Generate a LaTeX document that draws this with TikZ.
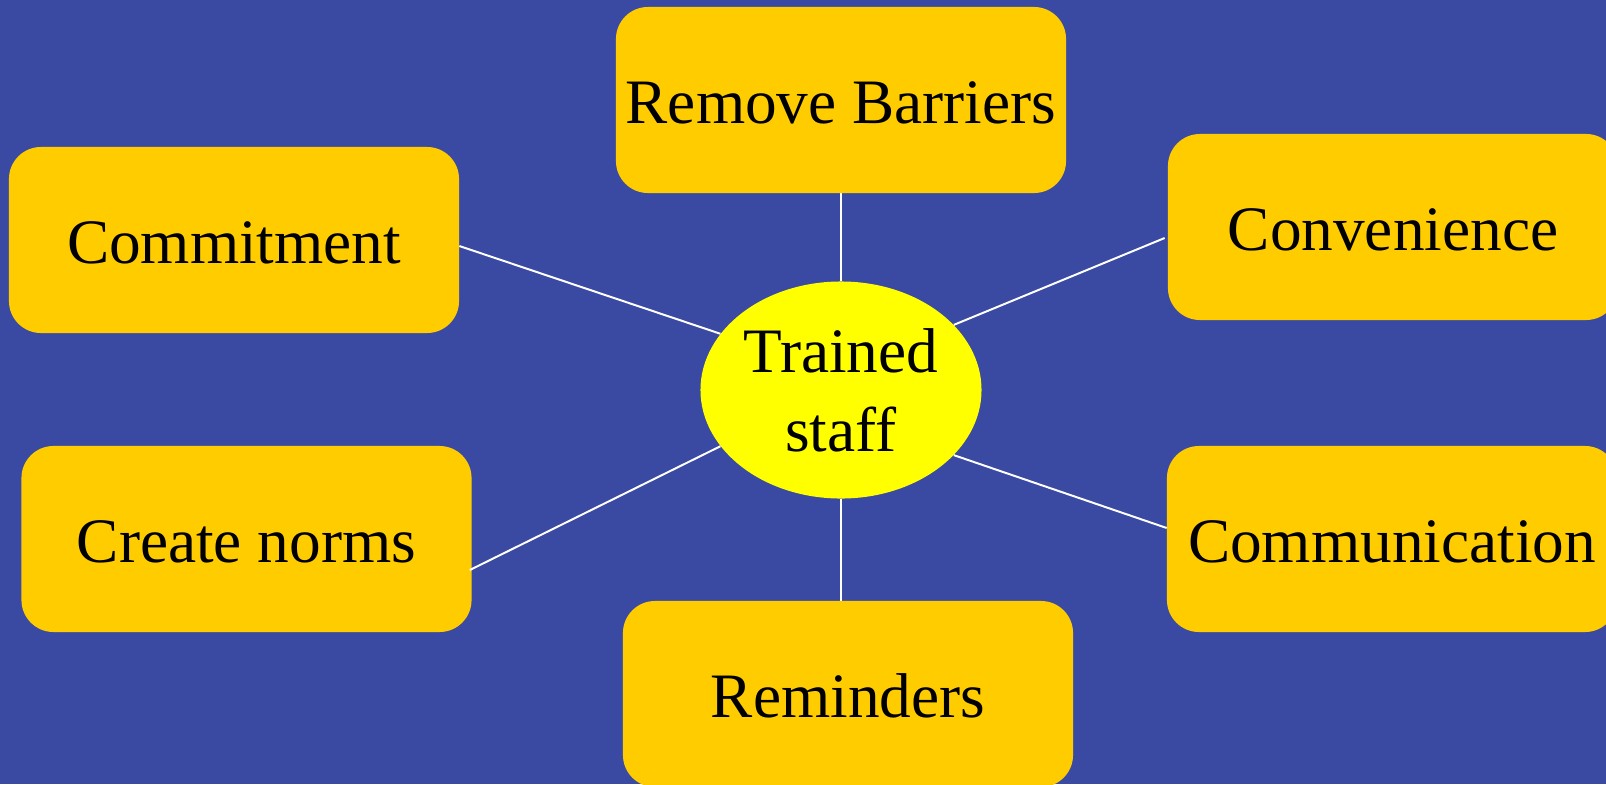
\documentclass[tikz,border=0pt]{standalone}
\usepackage{fontspec}
\setmainfont{Liberation Serif}
\usetikzlibrary{shapes.geometric}

\definecolor{slideblue}{RGB}{58,74,163}
\definecolor{boxgold}{RGB}{255,204,0}
\definecolor{hubyellow}{RGB}{255,255,0}

\tikzset{
	factor/.style={shape=rectangle, fill=boxgold, rounded corners=0.8cm, inner sep=0pt,
		minimum width=11.25cm, minimum height=4.65cm, text height=1.15cm, text depth=0pt,
		font=\fontsize{45}{56}\selectfont},
	hub/.style={shape=ellipse, fill=hubyellow, inner sep=0pt, align=center,
		minimum width=7.025cm, minimum height=5.425cm, font=\fontsize{45}{56}\selectfont},
	spoke/.style={draw=white, line width=1.4pt}
}

\begin{document}
\begin{tikzpicture}[x=0.025cm, y=-0.025cm]
	% Background and frame:
	\fill[slideblue] (0, 0) rectangle (1606, 784);
	\useasboundingbox (0, 0) rectangle (1606, 784);
	\clip (0, 0) rectangle (1606, 784);
	% Boxes round the centre:
	\node[hub](staff) at (841, 390){Trained\\staff};
	\node[factor](barriers) at (841, 100){Remove Barriers};
	\node[factor](commit) at (234, 240){Commitment};
	\node[factor](conven) at (1393, 227){Convenience};
	\node[factor](norms) at (246.5, 539){Create norms};
	\node[factor](commun) at (1392, 539){Communication};
	\node[factor](remind) at (848, 694){Reminders};
	% Spokes:
	\draw[spoke] (barriers.south) -- (staff.north);
	\draw[spoke] ([yshift=-0.15cm]commit.east) -- (staff.155);
	\draw[spoke] ([yshift=-0.275cm, xshift=-0.075cm]conven.west) -- (staff.30);
	\draw[spoke] ([yshift=-0.775cm, xshift=-0.05cm]norms.east) -- (staff.205);
	\draw[spoke] ([yshift=0.275cm]commun.west) -- (staff.330);
	\draw[spoke] (staff.south) -- (staff.south |- remind.north);
\end{tikzpicture}
\end{document}
